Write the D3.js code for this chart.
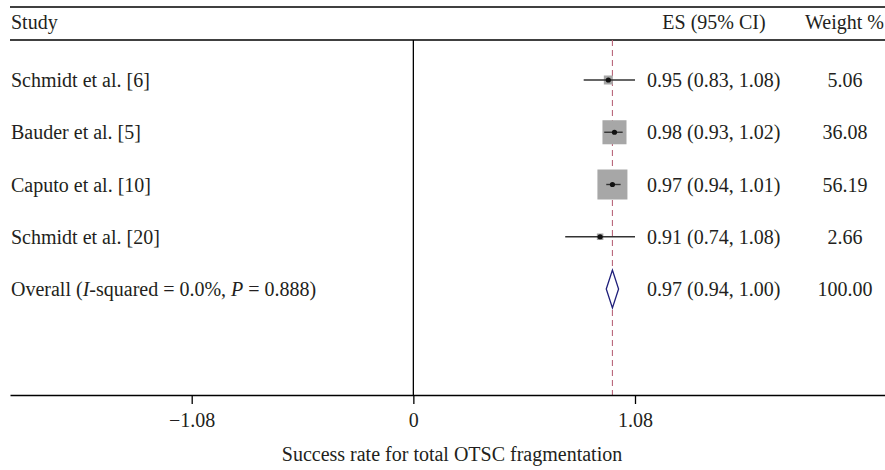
<!DOCTYPE html>
<html>
<head>
<meta charset="utf-8">
<script src="https://cdn.jsdelivr.net/npm/d3@7"></script>
<style>
  body { margin: 0; background: #fff; }
  text { font-family: "Liberation Serif", "DejaVu Serif", serif; fill: #231f20; }
</style>
</head>
<body>
<div id="chart"></div>
<script>
// study rows
const studies = ["Schmidt et al. [6]", "Bauder et al. [5]", "Caputo et al. [10]", "Schmidt et al. [20]"]
const es = [0.95, 0.98, 0.97, 0.91]
const lower = [0.83, 0.93, 0.94, 0.74]
const upper = [1.08, 1.02, 1.01, 1.08]
const weights = [5.06, 36.08, 56.19, 2.66]

// pooled estimate
const overallLabel = "Overall"
const overall = { es: 0.97, lower: 0.94, upper: 1.00, weight: 100.00 }
const iSquared = "0.0%"
const pValue = "0.888"

const tickValues = [-1.08, 0, 1.08]
const xLabel = "Success rate for total OTSC fragmentation"

let width = 885, height = 470

let svg = d3.select("#chart").append("svg")
  .attr("width", width)
  .attr("height", height)

let left = 10, right = 885
let topLine = 7, headLine = 40, axisY = 395

let x = d3.scaleLinear()
  .domain([-1.08, 1.08])
  .range([191.7, 635])
// same mapping, stretched so the axis line spans the full width
let xAxisScale = x.copy().domain([x.invert(left), x.invert(right)]).range([left, right])

let rows = studies.concat([overallLabel])
let y = d3.scalePoint()
  .domain(rows)
  .range([80, 289])

let fmt = d3.format(".2f")
let fontSize = "20px"

// header rules
svg.append("line")
  .attr("x1", left).attr("x2", right)
  .attr("y1", topLine).attr("y2", topLine)
  .attr("stroke", "#000").attr("stroke-width", 1.3)
svg.append("line")
  .attr("x1", left).attr("x2", right)
  .attr("y1", headLine).attr("y2", headLine)
  .attr("stroke", "#000").attr("stroke-width", 1.3)

// headers
svg.append("text").attr("x", 11).attr("y", 29)
  .style("font-size", fontSize).text("Study")
svg.append("text").attr("x", 714).attr("y", 29)
  .attr("text-anchor", "middle")
  .style("font-size", fontSize).text("ES (95% CI)")
svg.append("text").attr("x", 884).attr("y", 29)
  .attr("text-anchor", "end")
  .style("font-size", fontSize).text("Weight %")

// null line at 0
svg.append("line")
  .attr("x1", x(0)).attr("x2", x(0))
  .attr("y1", headLine).attr("y2", axisY)
  .attr("stroke", "#000").attr("stroke-width", 1.3)

// overall effect dashed line
svg.append("line")
  .attr("x1", x(overall.es)).attr("x2", x(overall.es))
  .attr("y1", headLine).attr("y2", axisY)
  .attr("stroke", "#b9677a").attr("stroke-width", 1.1)
  .attr("stroke-dasharray", "6,4")

let data = studies.map((s, i) => ({ name: s, es: es[i], lo: lower[i], hi: upper[i], w: weights[i] }))

let maxW = d3.max(weights)
let side = d3.scaleSqrt().domain([0, maxW]).range([0, 30])

// weight boxes
svg.selectAll(".box")
  .data(data)
  .enter()
  .append("rect")
  .attr("class", "box")
  .attr("x", d => x(d.es) - side(d.w) / 2)
  .attr("y", d => y(d.name) - side(d.w) / 2)
  .attr("width", d => side(d.w))
  .attr("height", d => side(d.w))
  .attr("fill", "#a7a7a7")

// CI lines
svg.selectAll(".ci")
  .data(data)
  .enter()
  .append("line")
  .attr("class", "ci")
  .attr("x1", d => x(d.lo))
  .attr("x2", d => x(d.hi))
  .attr("y1", d => y(d.name))
  .attr("y2", d => y(d.name))
  .attr("stroke", "#333")
  .attr("stroke-width", 1.4)

// point estimates
svg.selectAll(".pt")
  .data(data)
  .enter()
  .append("circle")
  .attr("class", "pt")
  .attr("cx", d => x(d.es))
  .attr("cy", d => y(d.name))
  .attr("r", 2.6)
  .attr("fill", "#111")

// pooled diamond
let oy = y(overallLabel)
svg.append("path")
  .attr("d", "M" + x(overall.lower) + "," + oy +
    "L" + x(overall.es) + "," + (oy - 19) +
    "L" + x(overall.upper) + "," + oy +
    "L" + x(overall.es) + "," + (oy + 19) + "Z")
  .attr("fill", "#fff")
  .attr("stroke", "#1f1f7a")
  .attr("stroke-width", 1.3)

// study labels
svg.selectAll(".study")
  .data(data)
  .enter()
  .append("text")
  .attr("class", "study")
  .attr("x", 11)
  .attr("y", d => y(d.name))
  .attr("dy", "0.35em")
  .style("font-size", fontSize)
  .text(d => d.name)

let ov = svg.append("text").attr("x", 11).attr("y", oy).attr("dy", "0.35em")
  .style("font-size", fontSize)
ov.append("tspan").text("Overall (")
ov.append("tspan").style("font-style", "italic").text("I")
ov.append("tspan").text("-squared = " + iSquared + ", ")
ov.append("tspan").style("font-style", "italic").text("P")
ov.append("tspan").text(" = " + pValue + ")")

// ES column
let esRows = data.map(d => ({ name: d.name, es: d.es, lo: d.lo, hi: d.hi, w: d.w }))
esRows.push({ name: overallLabel, es: overall.es, lo: overall.lower, hi: overall.upper, w: overall.weight })

svg.selectAll(".es")
  .data(esRows)
  .enter()
  .append("text")
  .attr("class", "es")
  .attr("x", 647)
  .attr("y", d => y(d.name))
  .attr("dy", "0.35em")
  .style("font-size", fontSize)
  .text(d => fmt(d.es) + " (" + fmt(d.lo) + ", " + fmt(d.hi) + ")")

svg.selectAll(".wt")
  .data(esRows)
  .enter()
  .append("text")
  .attr("class", "wt")
  .attr("x", 845)
  .attr("y", d => y(d.name))
  .attr("dy", "0.35em")
  .attr("text-anchor", "middle")
  .style("font-size", fontSize)
  .text(d => fmt(d.w))

// x axis
let axis = svg.append("g")
  .attr("transform", "translate(0," + axisY + ")")
  .call(d3.axisBottom(xAxisScale)
    .tickValues(tickValues)
    .tickSize(9)
    .tickSizeOuter(0)
    .tickPadding(9)
    .tickFormat(d => d === 0 ? "0" : (d < 0 ? "\u2212" : "") + fmt(Math.abs(d))))

axis.select(".domain").attr("stroke", "#000").attr("stroke-width", 1.3)
axis.selectAll(".tick line").attr("stroke", "#000").attr("stroke-width", 1.3)
axis.selectAll(".tick text")
  .style("font-size", fontSize)
  .style("font-family", "'Liberation Serif', serif")
  .attr("fill", "#231f20")

svg.append("text")
  .attr("x", 452)
  .attr("y", 461)
  .attr("text-anchor", "middle")
  .style("font-size", fontSize)
  .text(xLabel)
</script>
</body>
</html>
